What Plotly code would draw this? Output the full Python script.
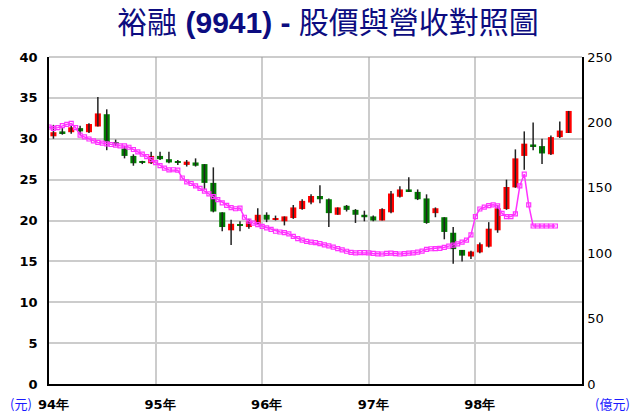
import plotly.graph_objects as go

# ---- data (monthly candles, 94/01 .. 98/11) ----
opens = [30.3, 30.9, 30.8, 31.3, 30.8, 31.5, 33.0, 29.6, 28.8, 27.9, 27.2, 27.0,
         27.9, 27.5, 27.2, 26.8, 27.1, 26.9, 24.6, 21.0, 18.8, 19.5, 19.2, 19.6,
         20.7, 20.1, 19.9, 20.3, 21.4, 22.2, 23.0, 22.6, 20.7, 21.8, 21.3, 20.7,
         20.5, 20.0, 21.0, 22.9, 23.8, 23.5, 22.7, 20.9, 20.4, 18.5, 16.4, 15.6,
         16.1, 16.8, 18.8, 21.4, 24.05, 27.9, 29.3, 29.1, 28.1, 30.2, 30.7]
highs = [31.7, 31.3, 31.6, 31.6, 31.9, 35.1, 33.6, 29.9, 29.1, 28.1, 27.3, 28.4,
         28.4, 28.4, 27.4, 27.4, 27.6, 26.9, 26.5, 21.0, 20.1, 19.9, 20.2, 21.5,
         21.0, 20.6, 20.5, 21.9, 22.6, 23.2, 24.3, 22.7, 21.6, 21.9, 21.4, 21.2,
         20.6, 21.5, 23.6, 24.2, 25.3, 23.8, 23.2, 21.6, 20.4, 19.2, 16.4, 16.3,
         17.3, 19.8, 21.9, 25.0, 28.7, 30.9, 32.0, 30.0, 30.4, 32.1, 33.4]
lows = [30.0, 30.5, 30.6, 30.5, 30.7, 31.5, 28.6, 29.1, 27.6, 26.7, 26.9, 26.9,
        27.4, 27.0, 26.8, 26.6, 26.6, 23.8, 21.0, 18.7, 17.0, 18.7, 19.0, 19.5,
        19.8, 20.0, 19.4, 20.2, 21.3, 22.0, 22.1, 19.2, 20.7, 21.1, 19.7, 19.9,
        19.9, 20.0, 20.9, 22.8, 23.5, 22.5, 19.6, 20.4, 17.7, 14.7, 15.0, 15.3,
        16.0, 16.7, 18.5, 21.3, 24.0, 26.2, 28.6, 26.9, 28.0, 30.1, 30.7]
closes = [30.8, 30.7, 31.4, 30.9, 31.8, 33.1, 29.6, 29.4, 27.9, 27.0, 27.1, 27.9,
          27.5, 27.1, 27.1, 27.2, 26.7, 24.6, 21.1, 19.2, 19.6, 19.4, 19.9, 20.7,
          20.1, 20.3, 20.5, 21.6, 22.4, 23.0, 22.6, 20.9, 21.6, 21.3, 20.7, 20.4,
          20.0, 21.4, 23.3, 23.8, 23.6, 22.6, 19.7, 21.5, 18.6, 16.5, 15.7, 16.2,
          17.1, 19.0, 21.5, 24.1, 27.6, 29.4, 29.1, 28.2, 30.2, 31.0, 33.4]

# ---- revenue (億元), sampled every half month from 94/01 ----
revenue = [196.5, 195.5, 196.0, 197.5, 198.5, 199.2, 196.0, 190.3, 189.0, 187.3,
           185.8, 184.7, 184.2, 183.6, 183.1, 182.6, 182.1, 182.0, 181.0, 179.3,
           177.5, 175.8, 173.8, 171.5, 169.2, 167.0, 165.0, 163.7, 163.8, 163.5,
           157.5, 154.5, 153.3, 151.5, 149.5, 147.5, 145.3, 143.2, 141.0, 138.5,
           136.5, 134.8, 134.0, 134.5, 127.5, 124.5, 123.0, 121.8, 120.5, 119.3,
           118.2, 116.8, 116.2, 115.8, 114.8, 112.8, 111.2, 110.0, 109.0, 108.4,
           108.1, 107.3, 106.4, 105.6, 104.6, 103.5, 102.5, 101.5, 100.6, 100.3,
           100.4, 100.4, 100.2, 99.8, 99.5, 99.4, 99.8, 100.0, 99.7, 99.4,
           99.6, 100.0, 100.3, 100.8, 101.6, 103.0, 103.4, 103.5, 103.7, 104.5,
           105.4, 106.2, 107.2, 108.5, 110.0, 114.0, 128.0, 133.8, 135.2, 136.4,
           137.0, 136.2, 130.4, 128.0, 128.0, 130.0, 151.5, 160.5, 137.0, 120.8,
           120.8, 120.8, 120.8, 120.8, 120.8]

year_labels = ["94年", "95年", "96年", "97年", "98年"]
left_ticks = [0, 5, 10, 15, 20, 25, 30, 35, 40]
right_ticks = [0, 50, 100, 150, 200, 250]

# ---- derived ----
n = len(opens)
cx = [i + 0.5 for i in range(n)]
body_base = [min(o, c) for o, c in zip(opens, closes)]
body_h = [max(abs(c - o), 0.15) for o, c in zip(opens, closes)]
body_col = ["#ff0000" if c >= o else "#007f00" for o, c in zip(opens, closes)]
wx, wy = [], []
for x, h, l in zip(cx, highs, lows):
    wx += [x, x, None]
    wy += [l, h, None]
rx = [k * 0.5 for k in range(len(revenue))]
year_pos = [12 * k + 0.5 for k in range(len(year_labels))]
grid_pos = [12 * k for k in range(1, len(year_labels))]

fig = go.Figure()
fig.add_trace(go.Scatter(x=wx, y=wy, mode="lines",
                         line=dict(color="#222222", width=1.5),
                         hoverinfo="skip", showlegend=False))
fig.add_trace(go.Bar(x=cx, y=body_h, base=body_base, width=0.68,
                     marker=dict(color=body_col, line=dict(width=0)),
                     showlegend=False))
fig.add_trace(go.Scatter(x=rx, y=revenue, yaxis="y2", mode="lines+markers",
                         line=dict(color="#ff33ff", width=1.5),
                         marker=dict(symbol="square-open", size=4,
                                     color="#ff33ff", line=dict(width=1.2)),
                         showlegend=False))

fig.update_layout(
    width=640, height=419,
    margin=dict(l=49, r=58, t=57, b=35, autoexpand=False),
    paper_bgcolor="white", plot_bgcolor="white",
    barmode="overlay",
    title=dict(text="裕融 <b>(9941) -</b> 股價與營收對照圖",
               font=dict(family="Liberation Sans, Noto Sans CJK TC", size=30,
                         color="#0c0c80"),
               x=0.5 + 8 / 640, xanchor="center", y=1 - 22 / 419,
               yanchor="middle", yref="container"),
    xaxis=dict(range=[0, 60], tickvals=year_pos, ticktext=year_labels,
               showgrid=False, zeroline=False, showline=True, automargin=False,
               linecolor="black", linewidth=1.5, ticks="",
               ticklabelstandoff=8,
               tickfont=dict(family="DejaVu Sans", size=13, color="black",
                             weight="bold"),
               minor=dict(tickvals=grid_pos, showgrid=True,
                          gridcolor="#cccccc", gridwidth=1.5, ticks="")),
    yaxis=dict(range=[0, 40], tickvals=left_ticks, showgrid=True,
               gridcolor="#cccccc", gridwidth=1.5, zeroline=False,
               showline=True, linecolor="black", linewidth=1.5, ticks="",
               ticklabelstandoff=7, automargin=False,
               tickfont=dict(family="DejaVu Sans", size=13, color="black",
                             weight="bold")),
    yaxis2=dict(range=[0, 250], tickvals=right_ticks, overlaying="y",
                side="right", showgrid=False, zeroline=False, showline=True,
                linecolor="black", linewidth=1.5, ticks="", automargin=False,
                ticklabelstandoff=1,
                tickfont=dict(family="DejaVu Sans", size=13, color="black")),
)
fig.add_shape(type="line", xref="paper", yref="paper", x0=0, x1=1, y0=1, y1=1,
              line=dict(color="#999999", width=1))
fig.add_annotation(text="(元)", xref="paper", yref="paper", x=-41 / 533,
                   y=-19 / 327, xanchor="left", yanchor="middle", showarrow=False,
                   font=dict(family="Noto Sans CJK TC", size=13, color="#1a1aff"))
fig.add_annotation(text="(億元)", xref="paper", yref="paper", x=1 + 50 / 533,
                   y=-19 / 327, xanchor="right", yanchor="middle", showarrow=False,
                   font=dict(family="Noto Sans CJK TC", size=13, color="#1a1aff"))

fig.write_html("out.html", config={"displayModeBar": False},
               post_script="document.body.style.margin='0';"
                           "document.body.style.overflow='hidden';")
